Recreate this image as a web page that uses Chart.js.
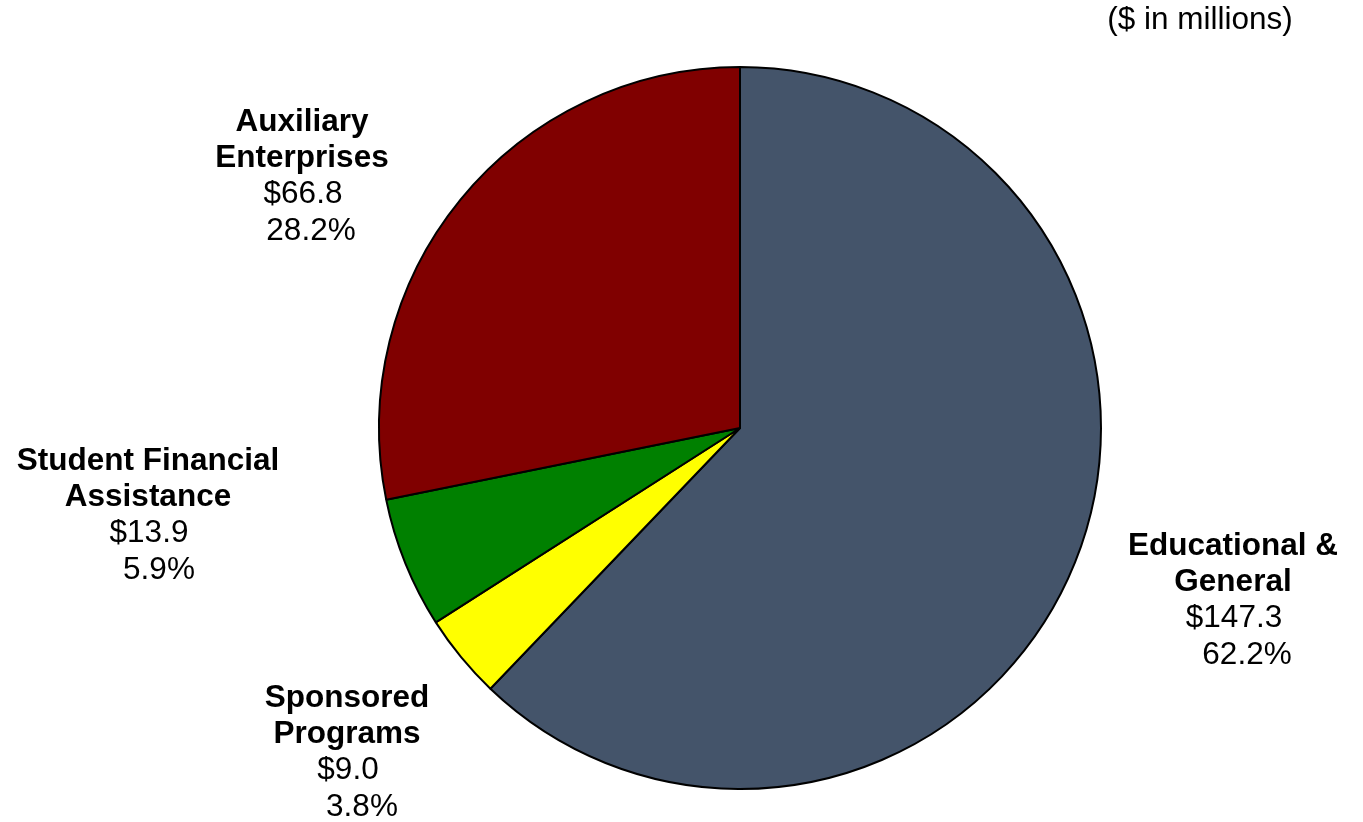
<!DOCTYPE html>
<html>
<head>
<meta charset="utf-8">
<script src="https://cdn.jsdelivr.net/npm/chart.js@4/dist/chart.umd.min.js"></script>
<style>
	html, body { margin: 0; padding: 0; background: #fff; }
	#wrap { width: 1363px; height: 822px; }
</style>
</head>
<body>
<div id="wrap"><canvas id="chart" width="1363" height="822"></canvas></div>
<script>
// slices go clockwise from 12 o'clock
var categories = ['Educational & General', 'Sponsored Programs', 'Student Financial Assistance', 'Auxiliary Enterprises'];
var nameLines = [['Educational &', 'General'], ['Sponsored', 'Programs'], ['Student Financial', 'Assistance'], ['Auxiliary', 'Enterprises']];
var amounts = [147.3, 9.0, 13.9, 66.8];
var percents = ['62.2%', '3.8%', '5.9%', '28.2%'];
var colors = ['#44546A', '#FFFF00', '#008000', '#800000'];
var unitNote = '($ in millions)';

var FONT = '"Liberation Sans", Arial, Helvetica, sans-serif';
var SIZE = 31.5;

// where each label block sits, relative to the pie centre (first baseline)
var labelSpots = [
	{dx: 493, dy: 127, pct: 14},
	{dx: -393, dy: 279, pct: 15},
	{dx: -592, dy: 42, pct: 11},
	{dx: -438, dy: -297, pct: 9}
];

var labelPlugin = {
	id: 'sliceLabels',
	afterDatasetsDraw: function(chart) {
		var ctx = chart.ctx;
		var arc = chart.getDatasetMeta(0).data[0];
		var cx = arc.x, cy = arc.y;
		var lh = 36.7;
		ctx.save();
		ctx.fillStyle = '#000';
		ctx.textAlign = 'center';
		ctx.textBaseline = 'alphabetic';
		amounts.forEach(function(v, i) {
			var s = labelSpots[i];
			var x = cx + s.dx, y = cy + s.dy;
			ctx.font = 'bold ' + SIZE + 'px ' + FONT;
			nameLines[i].forEach(function(t, k) {
				ctx.fillText(t, x, y + k * 35.5);
			});
			y += nameLines[i].length * 35.5 + 1;
			ctx.font = SIZE + 'px ' + FONT;
			ctx.fillText('$' + v.toFixed(1), x + 1, y);
			ctx.fillText(percents[i], x + s.pct, y + lh);
		});
		ctx.font = SIZE + 'px ' + FONT;
		ctx.fillText(unitNote, 1200, 29);
		ctx.restore();
	}
};

new Chart(document.getElementById('chart').getContext('2d'), {
	type: 'pie',
	data: {
		labels: categories,
		datasets: [{
			data: amounts,
			backgroundColor: colors,
			borderColor: '#000',
			borderWidth: 2,
			hoverOffset: 0,
			offset: 0
		}]
	},
	options: {
		responsive: false,
		animation: false,
		layout: { padding: { left: 378, right: 261, top: 66, bottom: 32 } },
		plugins: {
			legend: { display: false },
			tooltip: { enabled: false }
		}
	},
	plugins: [labelPlugin]
});
</script>
</body>
</html>
